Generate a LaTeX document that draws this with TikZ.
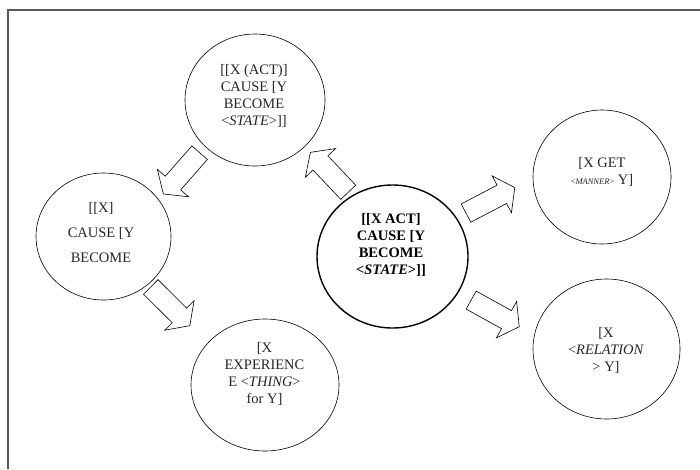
\documentclass[tikz,border=0pt]{standalone}
\usepackage{fontspec}
\setmainfont{Liberation Serif}
\usepackage{tikz}
\usetikzlibrary{shapes.geometric, shapes.arrows, calc}

\begin{document}
\begin{tikzpicture}[x=1pt, y=-1pt,
    bubble/.style={draw, ellipse, line width=0.6pt, inner sep=0pt},
    bubbletext/.style={align=center, text=black!85, font=\fontsize{14.5}{17}\selectfont},
    fatarrow/.style={draw, single arrow, line width=0.6pt, inner sep=0pt, inner ysep=10pt,
        single arrow head extend=10.5pt, single arrow tip angle=110, minimum height=55pt,
        sloped, allow upside down, anchor=tail}]
    \useasboundingbox (0,0) rectangle (700,469);
    \draw[black!65, line width=1.3pt] (8,469) -- (8,10) -- (700,10);

    % the bubbles
    \node[bubble, minimum width=140pt, minimum height=132pt] (state) at (255,100) {};
    \node[bubble, minimum width=135pt, minimum height=127pt] (causer) at (103.5,236.5) {};
    \node[bubble, minimum width=148pt, minimum height=132pt] (experiencer) at (265,385) {};
    \node[bubble, line width=1.4pt, minimum width=151pt, minimum height=143pt] (main) at (392.5,256.5) {};
    \node[bubble, minimum width=138pt, minimum height=134pt] (manner) at (602,177) {};
    \node[bubble, minimum width=147pt, minimum height=140pt] (relation) at (606.5,349) {};

    % their texts
    \node[bubbletext] (statetext) at (254,95.5) {[[X (ACT)]\\CAUSE [Y\\BECOME\\<\textit{STATE}>]]};
    \node[bubbletext, font=\fontsize{14.5}{25}\selectfont] (causertext) at (101,232.5) {[[X]\\CAUSE [Y\\BECOME};
    \node[bubbletext] (experiencertext) at (264.5,373.5) {[X\\EXPERIENC\\E <\textit{THING}>\\for Y]};
    \node[bubbletext, text=black, font=\fontsize{14.5}{17}\selectfont\bfseries] (maintext) at (391,244.5) {[[X ACT]\\CAUSE [Y\\BECOME\\<\textit{STATE}>]]};
    \node[bubbletext] (mannertext) at (602,172) {[X GET\\{\fontsize{8.5}{10}\selectfont<\textit{MANNER}>} Y]};
    \node[bubbletext] (relationtext) at (606,350) {[X\\<\textit{RELATION}\\> Y]};

    % block arrows between the bubbles
    \path (state.-137) -- node[fatarrow, pos=0.111] (a1) {} (causer.34);
    \path (main.124.5) -- node[fatarrow, pos=0.065] (a2) {} (state.-43.6);
    \path (causer.-47) -- node[fatarrow, pos=0.039] (a3) {} (experiencer.144.7);
    \path (main.31) -- node[fatarrow, pos=0.117] (a4) {} (manner.181.8);
    \path (main.-29.4) -- node[fatarrow, pos=0.166] (a5) {} (relation.169.6);
\end{tikzpicture}
\end{document}
